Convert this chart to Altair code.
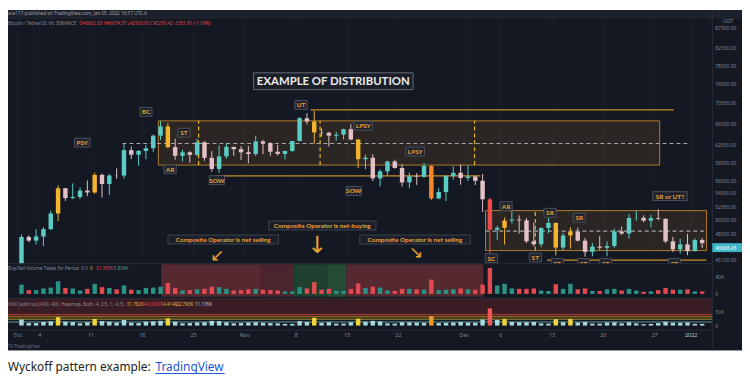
import altair as alt
import pandas as pd
import numpy as np

# ---------------- data (daily BTC/USDT, Oct 1 2021 - Jan 2 2022) ----------------
dates = pd.date_range("2021-10-01", "2022-01-02", freq="D")
opens = [43790, 48140, 47640, 48200, 49230, 51470, 55320, 53790, 53950, 54950, 54660, 57470, 56000, 57370, 57350,
         61670, 60880, 61530, 62010, 64280, 66000, 62210, 60690, 61300, 60850, 63080, 60330, 58450, 60590, 62250, 61850,
         61300, 61000, 63230, 62930, 61400, 61010, 61530, 63300, 67550, 66940, 64880, 64820, 64270, 64470, 65470,
         63580, 60100, 60360, 56890, 58050, 59710, 58620, 56250, 57250, 57150, 58950, 53720, 54720, 57270, 57810,
         56950, 57200, 56510, 53600, 49150, 49400, 50440, 50590, 50470, 47550, 47140, 49390, 50100, 46700, 48340,
         48860, 47630, 46130, 46830, 46680, 46910, 48900, 48610, 50820, 50840, 50430, 50800, 50700, 47540, 46460,
         47120, 46220, 47720]
highs = [48500, 48360, 49230, 49530, 51890, 55750, 55330, 56100, 55490, 56560, 57840, 57680, 57630, 58530, 62930,
         62330, 61720, 62620, 64490, 67000, 66640, 63730, 61750, 61490, 63710, 63290, 61500, 62500, 62960, 62270, 62400,
         62400, 64270, 63500, 63100, 62600, 61560, 63300, 67790, 68530, 69000, 65600, 65000, 65000, 65550, 66400,
         63600, 60850, 60950, 58370, 59850, 60030, 59250, 57850, 57750, 59450, 59150, 55300, 57450, 58870, 59170,
         59050, 57380, 57600, 53850, 49700, 50900, 51950, 51200, 50800, 50100, 49480, 50800, 50200, 48700, 49500,
         49430, 47990, 47300, 48300, 47540, 49300, 49580, 51380, 51870, 51200, 51280, 52100, 50700, 48150, 47900,
         48550, 47940, 47990]
lows = [43290, 47440, 47100, 46890, 49070, 50380, 53360, 53620, 53660, 54080, 54420, 53880, 54250, 56820, 56850,
        60150, 58960, 60100, 61320, 63480, 62000, 60000, 59700, 59520, 60650, 59820, 58000, 57820, 60170, 60700, 59950,
        59400, 60650, 60960, 60680, 60720, 60060, 61350, 63280, 66380, 62820, 64100, 62300, 63380, 63580, 63430,
        58600, 58370, 56460, 55600, 57350, 58500, 55600, 55300, 55850, 57000, 53500, 53610, 53330, 56700, 55880,
        56450, 55820, 51680, 42000, 47750, 47100, 50040, 48600, 47300, 46850, 46750, 48650, 45670, 46300, 46550,
        47520, 45500, 45550, 46400, 45560, 46630, 48420, 47920, 50400, 50200, 49450, 50480, 47300, 46100, 45900,
        45680, 46210, 46650]
closes = [48140, 47640, 48200, 49230, 51470, 55320, 53790, 53950, 54950, 54660, 57470, 56000, 57370, 57350, 61670,
          60880, 61530, 62010, 64280, 66000, 62210, 60690, 61300, 60850, 63080, 60330, 58450, 60590, 62250, 61850, 61300,
          61000, 63230, 62930, 61400, 61010, 61530, 63300, 67550, 66940, 64880, 64820, 64270, 64470, 65470, 63580,
          60100, 60360, 56890, 58050, 59710, 58620, 56250, 57250, 57150, 58950, 53720, 54720, 57270, 57810, 56950,
          57200, 56510, 53600, 49150, 49400, 50440, 50590, 50470, 47550, 47140, 49390, 50100, 46700, 48340, 48860,
          47630, 46130, 46830, 46680, 46910, 48900, 48610, 50820, 50840, 50430, 50800, 50700, 47540, 46460, 47120,
          46220, 47720, 47290]
volume_k = [22, 9, 9, 13, 15, 30, 14, 13, 8, 12, 24, 16, 14, 11, 20, 10, 9, 14, 15, 17, 26, 14, 8, 9, 11, 12, 17, 16, 12, 8, 9,
            11, 12, 10, 9, 8, 6, 6, 16, 13, 28, 10, 12, 7, 7, 12, 25, 14, 17, 15, 8, 7, 12, 12, 11, 10, 34, 9, 10, 11, 13,
            11, 10, 22, 62, 20, 24, 13, 12, 12, 13, 8, 7, 23, 12, 24, 11, 13, 7, 7, 11, 12, 8, 12, 8, 5, 6, 9, 14, 10, 10, 11,
            6, 6]

heat_levels_k = [40.032, 31.782, 22.793, 14.414, 11.176]
heat_names = ["red", "orange", "yellow", "teal", "gray"]

price_ticks = [87500, 82500, 78500, 74500, 70500, 66500, 62500, 59500, 56500, 54500, 52500, 50500, 48500, 45100]
x_tick_days = [0, 3, 10, 17, 24, 31, 38, 45, 52, 61, 66, 73, 80, 87, 92]
x_tick_labels = ["Oct", "4", "11", "18", "25", "Nov", "8", "15", "22", "Dec", "6", "13", "20", "27", "2022"]

wyckoff_labels = ["PSY", "BC", "AR", "ST", "SOW", "UT", "LPSY", "LPSY", "SOW", "SC", "AR", "ST", "SR", "SR",
                  "ST", "ST", "ST", "ST", "SR or UT?"]
wyckoff_days = [8.8, 17.5, 20.8, 22.7, 27.2, 38.7, 47.2, 54.3, 45.9, 64.7, 66.7, 70.7, 72.7, 76.7,
                73.7, 77.3, 80.3, 89.7, 89.1]
wyckoff_prices = [63020, 68800, 58400, 64830, 56610, 70170, 66130, 61440, 54890, 45300, 52550, 45400, 51570, 50860,
                  44680, 44680, 44680, 44680, 54090]

operator_notes = ["Composite Operator is net selling", "Composite Operator is net-buying", "Composite Operator is net selling"]
operator_days = [28.07, 41.6, 54.27]
operator_prices = [47790, 49730, 47790]
arrow_glyphs = ["↙", "↓", "↘"]
arrow_days = [27.2, 40.9, 54.4]
arrow_prices = [45600, 46950, 45950]
arrow_sizes = [17, 24, 17]

title_text = "EXAMPLE OF DISTRIBUTION"
title_day, title_price = 43.1, 75090

range_box_start = [19.2, 63.9]
range_box_end = [87.7, 94.1]
range_box_low = [59100, 46300]
range_box_high = [67050, 51900]

level_start = [40.0, 27.2, 72.3]
level_end = [89.6, 63.2, 94.1]
level_price = [69200, 57300, 45050]

mid_start = [14.3, 63.9]
mid_end = [91.6, 94.1]
mid_price = [62850, 48950]

phase_days = [24.7, 41.3, 62.4, 70.7]
phase_low = [59100, 59100, 59100, 46300]
phase_high = [67050, 67050, 67050, 51900]

zone_start = [19.6, 33.3, 37.6, 42.3, 44.9]
zone_end = [33.3, 37.6, 42.3, 44.9, 63.6]
zone_kind = ["sell", "sell2", "buy", "buy2", "sell"]

last_price = 46693.45

# ---------------- layout / style ----------------
W, H = 742, 370
X0, X1 = -0.6667, 98.2667
PX_PER_DAY = W / (X1 - X0)
P_LO, P_HI, P_Y_LO, P_Y_HI = 45100, 66500, 252.5, 115
PX_PER_LN = (P_Y_LO - P_Y_HI) / np.log(P_HI / P_LO)

BG = "#141823"
HEADER_BG = "#1d212c"
GRID = "#1b1f2a"
SEP = "#2a2e39"
LABEL_ORANGE = "#eba23a"
BOX_LINE = "#c98d2c"
AXIS_TXT = "#80858f"
FONT = "Noto Sans"

xs = alt.Scale(domain=[X0, X1], nice=False, zero=False)


def ps():
    return alt.Scale(type="log", domain=[P_LO, P_HI], range=[P_Y_LO, P_Y_HI], nice=False)


def v1s():
    return alt.Scale(domain=[0, 40], range=[287, 270], nice=False, zero=False)


def v2s():
    return alt.Scale(domain=[0, 50], range=[319, 305], nice=False, zero=False)


one = pd.DataFrame({"k": [0]})


def px_rect(x0, x1, y0, y1, color, **kw):
    return alt.Chart(one).mark_rect(color=color, **kw).encode(
        x=alt.value(x0), x2=alt.value(x1), y=alt.value(y0), y2=alt.value(y1))


def px_rule(x0, x1, y0, y1, color, **kw):
    return alt.Chart(one).mark_rule(color=color, **kw).encode(
        x=alt.value(x0), x2=alt.value(x1), y=alt.value(y0), y2=alt.value(y1))


def px_text(txt, x, y, **kw):
    base = dict(font=FONT, align="left", baseline="middle")
    base.update(kw)
    return alt.Chart(pd.DataFrame({"t": [txt]})).mark_text(**base).encode(
        x=alt.value(x), y=alt.value(y), text="t:N")


# ---------------- frames ----------------
day0 = dates[0]
candles = pd.DataFrame({
    "day": [(d - day0).days + 0.5 for d in dates],
    "open": opens, "high": highs, "low": lows, "close": closes, "vol": volume_k,
})


def heat(v):
    if v > heat_levels_k[0]:
        return "r"
    if v > heat_levels_k[1]:
        return "o"
    if v > heat_levels_k[2]:
        return "y"
    return "n"


candles["dir"] = np.where(candles["close"] >= candles["open"], "up", "dn")
candles["heat"] = [heat(v) for v in candles["vol"]]
candles["ccls"] = [h if h != "n" else d for h, d in zip(candles["heat"], candles["dir"])]

lab = pd.DataFrame({"text": wyckoff_labels, "day": wyckoff_days, "price": wyckoff_prices})
ops = pd.DataFrame({"text": operator_notes, "day": operator_days, "price": operator_prices})


def boxes(df, char_w, pad, h_px):
    df = df.copy()
    w = df["text"].str.len() * char_w + pad
    df["d0"] = df["day"] - w / 2 / PX_PER_DAY
    df["d1"] = df["day"] + w / 2 / PX_PER_DAY
    f = np.exp(h_px / 2 / PX_PER_LN)
    df["p0"] = df["price"] / f
    df["p1"] = df["price"] * f
    return df


lab = boxes(lab, 3.25, 6, 9)
ops = boxes(ops, 3.25, 6, 9)
ttl = boxes(pd.DataFrame({"text": [title_text], "day": [title_day], "price": [title_price]}), 6.8, 7, 17)

xt = pd.DataFrame({"day": x_tick_days, "label": x_tick_labels})
xt["bold"] = xt["label"] == "2022"

layers = []
layers.append(px_rect(0, W, 0, 344, BG))
layers.append(px_rect(0, W, 0, 9, HEADER_BG))
layers.append(alt.Chart(xt).mark_rule(color=GRID, strokeWidth=1).encode(
    x=alt.X("day:Q", scale=xs, axis=None), y=alt.value(9), y2=alt.value(323)))

# range boxes
rb = pd.DataFrame({"d0": range_box_start, "d1": range_box_end, "p0": range_box_low, "p1": range_box_high})
layers.append(alt.Chart(rb).mark_rect(fill=BOX_LINE, fillOpacity=0.13, stroke=BOX_LINE, strokeWidth=1,
                                      strokeOpacity=0.85).encode(
    x=alt.X("d0:Q", scale=xs, axis=None), x2="d1:Q",
    y=alt.Y("p0:Q", scale=ps(), axis=None), y2="p1:Q"))
lv = pd.DataFrame({"d0": level_start, "d1": level_end, "p": level_price})
layers.append(alt.Chart(lv).mark_rule(color=BOX_LINE, strokeWidth=1.3).encode(
    x=alt.X("d0:Q", scale=xs, axis=None), x2="d1:Q", y=alt.Y("p:Q", scale=ps(), axis=None)))
md = pd.DataFrame({"d0": mid_start, "d1": mid_end, "p": mid_price})
layers.append(alt.Chart(md).mark_rule(color="#a4a6ab", strokeWidth=1.2, strokeDash=[4, 3]).encode(
    x=alt.X("d0:Q", scale=xs, axis=None), x2="d1:Q", y=alt.Y("p:Q", scale=ps(), axis=None)))
ph = pd.DataFrame({"d": phase_days, "p0": phase_low, "p1": phase_high})
layers.append(alt.Chart(ph).mark_rule(color="#e9b824", strokeWidth=1.2, strokeDash=[4, 3]).encode(
    x=alt.X("d:Q", scale=xs, axis=None), y=alt.Y("p0:Q", scale=ps(), axis=None), y2="p1:Q"))

# candles
cc = alt.Color("ccls:N", legend=None, scale=alt.Scale(
    domain=["up", "dn", "y", "o", "r"], range=["#5ccdc4", "#e3c1c6", "#f3b52f", "#f5862a", "#ef4b4b"]))
layers.append(alt.Chart(candles).mark_rule(strokeWidth=1).encode(
    x=alt.X("day:Q", scale=xs, axis=None), y=alt.Y("low:Q", scale=ps(), axis=None), y2="high:Q", color=cc))
layers.append(alt.Chart(candles).mark_bar(size=4.5).encode(
    x=alt.X("day:Q", scale=xs, axis=None), y=alt.Y("open:Q", scale=ps(), axis=None), y2="close:Q", color=cc))

# label boxes
for df, fsize, fcol, fill, stroke in [(lab, 6.5, LABEL_ORANGE, "#20242e", "#505562"),
                                      (ops, 6.5, LABEL_ORANGE, "#1b1f29", "#444955"),
                                      (ttl, 11.5, "#ececec", "#1b1f2a", "#6d717c")]:
    layers.append(alt.Chart(df).mark_rect(fill=fill, stroke=stroke, strokeWidth=0.9).encode(
        x=alt.X("d0:Q", scale=xs, axis=None), x2="d1:Q",
        y=alt.Y("p0:Q", scale=ps(), axis=None), y2="p1:Q"))
    layers.append(alt.Chart(df).mark_text(font="Lato", fontWeight="bold", fontSize=fsize, color=fcol,
                                          baseline="middle", dy=0.5).encode(
        x=alt.X("day:Q", scale=xs, axis=None), y=alt.Y("price:Q", scale=ps(), axis=None), text="text:N"))

ar = pd.DataFrame({"g": arrow_glyphs, "day": arrow_days, "price": arrow_prices, "s": arrow_sizes})
layers.append(alt.Chart(ar).mark_text(font="DejaVu Sans", color="#eaa22f", baseline="middle").encode(
    x=alt.X("day:Q", scale=xs, axis=None), y=alt.Y("price:Q", scale=ps(), axis=None), text="g:N",
    size=alt.Size("s:Q", scale=None, legend=None)))

# lower panes
layers.append(px_rect(0, W, 256.5, 344, BG))
zd = pd.DataFrame({"d0": zone_start, "d1": zone_end, "kind": zone_kind})
layers.append(alt.Chart(zd).mark_rect(opacity=0.95).encode(
    x=alt.X("d0:Q", scale=xs, axis=None), x2="d1:Q", y=alt.value(257), y2=alt.value(290),
    color=alt.Color("kind:N", legend=None, scale=alt.Scale(
        domain=["sell", "sell2", "buy", "buy2"], range=["#5a2a33", "#4e262e", "#1f4230", "#254f37"]))))
layers.append(alt.Chart(candles).mark_bar(size=4.5).encode(
    x=alt.X("day:Q", scale=xs, axis=None), y=alt.Y("vol:Q", scale=v1s(), axis=None),
    color=alt.Color("dir:N", legend=None, scale=alt.Scale(domain=["up", "dn"], range=["#2b9386", "#e04a50"]))))

bands = pd.DataFrame({"lo": [heat_levels_k[0], heat_levels_k[1], heat_levels_k[2]],
                      "hi": [96, heat_levels_k[0], heat_levels_k[1]], "band": ["r", "o", "y"]})
layers.append(alt.Chart(bands).mark_rect().encode(
    x=alt.value(0), x2=alt.value(712), y=alt.Y("lo:Q", scale=v2s(), axis=None), y2="hi:Q",
    color=alt.Color("band:N", legend=None, scale=alt.Scale(domain=["r", "o", "y"],
                                                         range=["#3a1c24", "#3f2a1e", "#2a2a20"]))))
hl = pd.DataFrame({"v": heat_levels_k, "name": heat_names})
layers.append(alt.Chart(hl).mark_rule(strokeWidth=1, opacity=0.8).encode(
    x=alt.value(0), x2=alt.value(712), y=alt.Y("v:Q", scale=v2s(), axis=None),
    color=alt.Color("name:N", legend=None, scale=alt.Scale(
        domain=heat_names, range=["#c8433f", "#e08a25", "#b9a534", "#3e7a72", "#555b66"]))))
layers.append(alt.Chart(candles).mark_bar(size=4.5).encode(
    x=alt.X("day:Q", scale=xs, axis=None), y=alt.Y("vol:Q", scale=v2s(), axis=None),
    color=alt.Color("heat:N", legend=None, scale=alt.Scale(
        domain=["n", "y", "o", "r"], range=["#a6d9dd", "#f2d33a", "#f59a2a", "#f25757"]))))

# separators
layers.append(px_rule(0, 712, 256.5, 256.5, SEP))
layers.append(px_rule(0, 712, 291.5, 291.5, SEP))
layers.append(px_rule(0, 712, 323.5, 323.5, SEP))
layers.append(px_rule(712, 712, 0, 344, SEP))

# right axis labels
pt = pd.DataFrame({"p": price_ticks, "t": [f"{p:.2f}" for p in price_ticks]})
layers.append(alt.Chart(pt).mark_text(font=FONT, fontSize=5, color=AXIS_TXT, align="left", baseline="middle").encode(
    x=alt.value(715), y=alt.Y("p:Q", scale=ps(), axis=None), text="t:N"))
layers.append(px_text("USDT", 722, 12, fontSize=4.5, color=AXIS_TXT))
f_tag = np.exp(4.5 / PX_PER_LN)
tag = pd.DataFrame({"p": [last_price], "p0": [last_price / f_tag], "p1": [last_price * f_tag],
                    "t": [f"{last_price:.2f}"]})
layers.append(alt.Chart(tag).mark_rect(color="#3fb7c8").encode(
    x=alt.value(712), x2=alt.value(742), y=alt.Y("p0:Q", scale=ps(), axis=None), y2="p1:Q"))
layers.append(alt.Chart(tag).mark_text(font=FONT, fontSize=5, color="white", align="left", baseline="middle").encode(
    x=alt.value(715), y=alt.Y("p:Q", scale=ps(), axis=None), text="t:N"))
vt1 = pd.DataFrame({"v": [40, 0], "t": ["40K", "0"]})
layers.append(alt.Chart(vt1).mark_text(font=FONT, fontSize=5, color=AXIS_TXT, align="left", baseline="middle").encode(
    x=alt.value(715), y=alt.Y("v:Q", scale=v1s(), axis=None), text="t:N"))
vt2 = pd.DataFrame({"v": [50, 0], "t": ["50K", "0"]})
layers.append(alt.Chart(vt2).mark_text(font=FONT, fontSize=5, color=AXIS_TXT, align="left", baseline="middle").encode(
    x=alt.value(715), y=alt.Y("v:Q", scale=v2s(), axis=None), text="t:N"))

# x labels
layers.append(alt.Chart(xt).mark_text(font=FONT, fontSize=5.5, baseline="middle").encode(
    x=alt.X("day:Q", scale=xs, axis=None), y=alt.value(329), text="label:N",
    color=alt.Color("bold:N", legend=None, scale=alt.Scale(domain=[False, True], range=[AXIS_TXT, "#c9ccd3"]))))

# header & pane texts
layers.append(px_text("ace117 published on TradingView.com, Jan 05, 2022 16:57 UTC-6", 0, 4, fontSize=4.7, color="#9ca0aa"))
layers.append(px_text("Bitcoin / TetherUS, 6h, BINANCE", 0, 14, fontSize=4.6, color="#8a8f99"))
layers.append(px_text("O46602.53 H46674.37 L42500.00 C43270.42 -3351.91 (-7.19%)", 72, 14, fontSize=4.6, color="#e0474c"))
layers.append(px_text("Buy/Sell Volume Totals for Period", 0, 262, fontSize=4.6, color="#8a8f99"))
layers.append(px_text("0  0", 74, 262, fontSize=4.6, color="#8a8f99"))
layers.append(px_text("0", 83, 262, fontSize=4.6, color="#e8a33a"))
layers.append(px_text("31.765K", 89, 262, fontSize=4.6, color="#e0474c"))
layers.append(px_text("5.834K", 107, 262, fontSize=4.6, color="#5b9a93"))
layers.append(px_text("VVol [adkrcos] (400, 400, Heatmap, Both, 4, 2.5, 1, -0.5)", 0, 298, fontSize=4.6, color="#8a8f99"))
for t, x, c in [("31.782K", 120, "#f0a030"), ("40.032K", 137, "#e0474c"), ("14.414K", 154, "#e6a03a"),
                ("22.793K", 170, "#e8c23a"), ("11.176K", 189, "#c9ccd3")]:
    layers.append(px_text(t, x, 298, fontSize=4.6, color=c))
layers.append(px_text("TV TradingView", 0, 341, fontSize=4.5, color="#6b7080"))

# caption
layers.append(px_text("Wyckoff pattern example:", 0, 365, fontSize=12, color="#222222", baseline="alphabetic"))
layers.append(px_text("TradingView", 149, 365, fontSize=12, color="#1a56d6", baseline="alphabetic"))
layers.append(px_rule(149, 219, 367.5, 367.5, "#1a56d6", strokeWidth=1))

chart = alt.layer(*layers).resolve_scale(y="independent", color="independent", size="independent").properties(
    width=W, height=H, padding=0, background="white",
    autosize=alt.AutoSizeParams(type="none")
).configure_view(strokeWidth=0)

chart.save("out.html", embed_options={"renderer": "svg", "actions": False})
